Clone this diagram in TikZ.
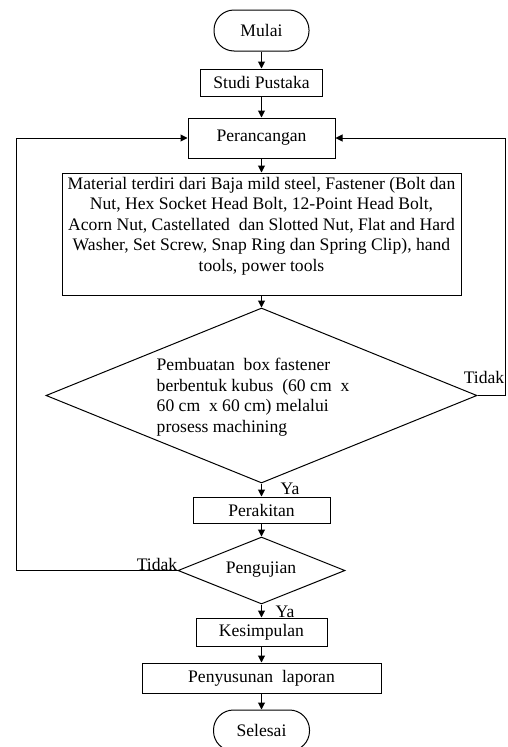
\documentclass[tikz,border=0pt]{standalone}
\usepackage{fontspec}
\setmainfont{Liberation Serif}
\usetikzlibrary{shapes.geometric, arrows.meta}
\begin{document}
\begin{tikzpicture}[x=1pt,y=-1pt,
  every node/.style={font=\fontsize{17.6}{20.6}\selectfont, inner sep=0pt},
  box/.style={draw, line width=1pt, rectangle},
  term/.style={draw, line width=1pt, rectangle, rounded corners=20pt},
  dec/.style={draw, line width=1pt, diamond},
  conn/.style={line width=1pt, -{Triangle[length=7pt,width=7pt]}}
]
\useasboundingbox (0,0) rectangle (507,747);
\clip (0,0) rectangle (507,747);

\node[term, minimum width=95, minimum height=41] (mulai) at (261.5,30.5) {Mulai};
\node[box, minimum width=122, minimum height=27] (studi) at (261.5,82.5) {Studi Pustaka};
\node[box, minimum width=147, minimum height=40] (peran) at (261.5,138) {Perancangan};
\node[box, minimum width=399, minimum height=122] (mat) at (261.5,234) {};
\node[align=center] (mattext) at (261.5,226) {Material terdiri dari Baja mild steel, Fastener (Bolt dan\\
Nut, Hex Socket Head Bolt, 12-Point Head Bolt,\\
Acorn Nut, Castellated\ \ dan Slotted Nut, Flat and Hard\\
Washer, Set Screw, Snap Ring dan Spring Clip), hand\\
tools, power tools};
\node[dec, minimum width=431, minimum height=175] (d1) at (261.5,395.5) {};
\node[align=left] (d1text) at (253,397) {Pembuatan\ \ box fastener\\
berbentuk kubus\ \ (60 cm\ \ x\\
60 cm\ \ x 60 cm) melalui\\
prosess machining};
\node[box, minimum width=137, minimum height=26] (rakit) at (261.5,510) {Perakitan};
\node[dec, minimum width=167, minimum height=67] (uji) at (261.5,570.5) {};
\node (ujitext) at (261,570) {Pengujian};
\node[box, minimum width=131, minimum height=28] (simpul) at (261.5,632) {Kesimpulan};
\node[box, minimum width=239, minimum height=30] (lapor) at (261.5,678) {Penyusunan\ \ laporan};
\node[term, minimum width=96, minimum height=41] (selesai) at (261.5,730.5) {Selesai};

\draw[conn] (mulai) -- (studi);
\draw[conn] (studi) -- (peran);
\draw[conn] (peran) -- (mat);
\draw[conn] (mat) -- (d1);
\draw[conn] (d1) -- (rakit);
\draw[conn] (rakit) -- (uji);
\draw[conn] (uji) -- (simpul);
\draw[conn] (simpul) -- (lapor);
\draw[conn] (lapor) -- (selesai);

\coordinate (rloop) at (505,395.5);
\coordinate (lloop) at (16,570.5);
\draw[conn] (d1.east) -- (rloop) |- (peran.east);
\draw[conn] (uji.west) -- (lloop) |- (peran.west);

\node (ya1) at (290,489) {Ya};
\node (ya2) at (285,612) {Ya};
\node (tidak1) at (484,377) {Tidak};
\node (tidak2) at (157,564) {Tidak};
\end{tikzpicture}
\end{document}
